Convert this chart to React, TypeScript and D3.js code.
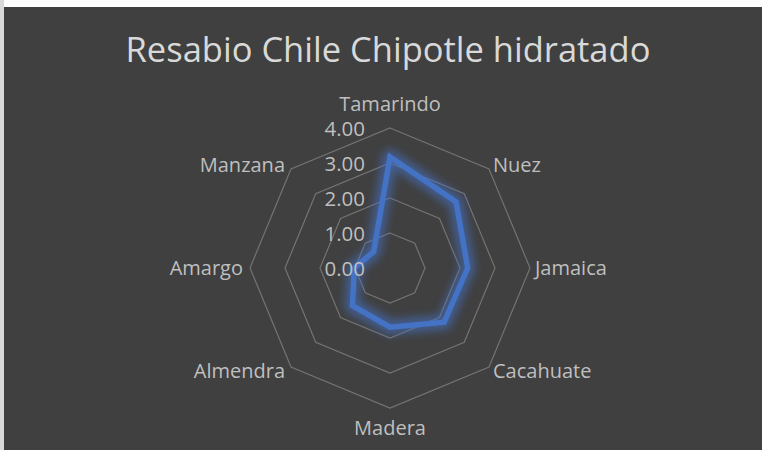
import React from "react";
import * as d3 from "d3";

const title = "Resabio Chile Chipotle hidratado";
const categories = ["Tamarindo", "Nuez", "Jamaica", "Cacahuate", "Madera", "Almendra", "Amargo", "Manzana"];
const values = [3.17, 2.67, 2.22, 2.19, 1.69, 1.52, 1.02, 0.66];
const ticks = [0, 1, 2, 3, 4];

const W = 762;
const H = 450;
const cx = 390;
const cy = 268;
const R = 140;
const FONT = "'Open Sans', sans-serif";

export default function App() {
  const r = d3.scaleLinear().domain([0, 4]).range([0, R]);
  const angle = d3
    .scaleLinear()
    .domain([0, categories.length])
    .range([0, 2 * Math.PI]);
  const pt = (i: number, v: number): [number, number] => {
    const a = angle(i);
    return [cx + r(v) * Math.sin(a), cy - r(v) * Math.cos(a)];
  };
  const ringPath = (v: number) =>
    d3.line().curve(d3.curveLinearClosed)(categories.map((_, i) => pt(i, v)));
  const dataPath = d3.line().curve(d3.curveLinearClosed)(values.map((v, i) => pt(i, v)));

  const labelPos = (i: number) => {
    const [vx, vy] = pt(i, 4);
    const a = angle(i);
    const s = Math.sin(a);
    const c = Math.cos(a);
    let anchor: "start" | "middle" | "end" = "middle";
    let x = vx;
    let y = vy;
    if (Math.abs(s) < 0.01) {
      anchor = "middle";
      y = c > 0 ? vy - 17 : vy + 27;
    } else if (Math.abs(c) < 0.01) {
      anchor = s > 0 ? "start" : "end";
      x = s > 0 ? vx + 5 : vx - 7;
      y = vy + 7;
    } else {
      anchor = s > 0 ? "start" : "end";
      x = s > 0 ? vx + 4 : vx - 6;
      y = vy + (c > 0 ? 3 : 11);
    }
    return { x, y, anchor };
  };

  return (
    <div style={{ position: "absolute", left: 0, top: 0, width: W, height: H }}>
      <svg width={W} height={H} style={{ display: "block" }}>
        <defs>
          <filter id="glow" x="-20%" y="-20%" width="140%" height="140%">
            <feGaussianBlur stdDeviation="4" />
          </filter>
        </defs>
        <rect x={0} y={0} width={W} height={H} fill="#ffffff" />
        <rect x={0} y={0} width={4} height={H} fill="#d9d9d9" />
        <rect x={4} y={7} width={W - 4} height={H - 7} fill="#404040" />
        <text
          x={cx - 2}
          y={62}
          textAnchor="middle"
          fill="#d9d9d9"
          fontFamily={FONT}
          fontSize={34.5}
        >
          {title}
        </text>
        {ticks
          .filter((t) => t > 0)
          .map((t) => (
            <path key={t} d={ringPath(t) || ""} fill="none" stroke="#737373" strokeWidth={1.2} />
          ))}
        <path
          d={dataPath || ""}
          fill="none"
          stroke="#4472C4"
          strokeWidth={15}
          strokeOpacity={0.6}
          strokeLinejoin="round"
          filter="url(#glow)"
        />
        <path d={dataPath || ""} fill="none" stroke="#4472C4" strokeWidth={5.5} strokeLinejoin="miter" />
        {ticks.map((t) => (
          <text
            key={t}
            x={cx - 25}
            y={cy - r(t) + 8}
            textAnchor="end"
            fill="#bfbfbf"
            fontFamily={FONT}
            fontSize={20.5}
          >
            {t.toFixed(2)}
          </text>
        ))}
        {categories.map((c, i) => {
          const p = labelPos(i);
          return (
            <text
              key={c}
              x={p.x}
              y={p.y}
              textAnchor={p.anchor}
              fill="#bfbfbf"
              fontFamily={FONT}
              fontSize={20}
            >
              {c}
            </text>
          );
        })}
      </svg>
    </div>
  );
}
